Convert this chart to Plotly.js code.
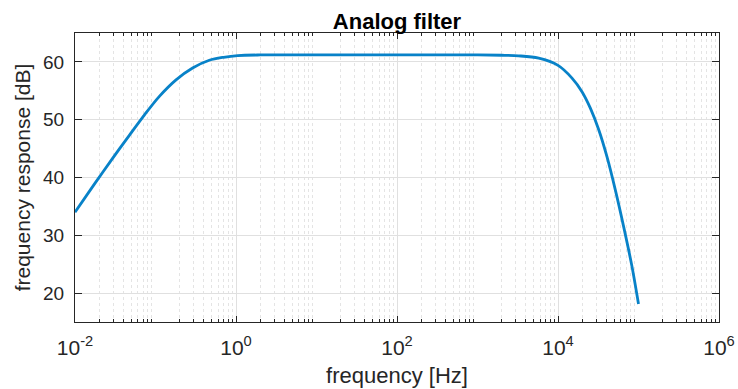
<!DOCTYPE html>
<html>
<head>
<meta charset="utf-8">
<script src="https://cdn.plot.ly/plotly-3.0.1.min.js"></script>
<style>
  html, body { margin: 0; padding: 0; background: #ffffff; }
  #chart { width: 738px; height: 389px; }
</style>
</head>
<body>
<div id="chart"></div>
<script>
// ---- data ----
const freqHz = [0.01, 0.0174, 0.0293, 0.0473, 0.0726, 0.111, 0.18, 0.289, 0.466, 0.7, 1.05, 2, 5, 20, 100, 1000, 2000, 3236, 5754, 10000, 14930, 19860, 25230, 31990, 40640, 51520, 65460, 82990, 100000];
const responseDb = [34.0, 38.85, 43.3, 47.3, 50.8, 54.0, 56.9, 58.95, 60.28, 60.8, 61.1, 61.2, 61.2, 61.2, 61.2, 61.2, 61.15, 61.05, 60.65, 59.4, 57.2, 54.85, 52.0, 48.3, 43.55, 37.85, 31.45, 24.6, 18.1];

const xTickVals = [0.01, 1, 100, 10000, 1000000];
const xTickText = ['10<sup>-2</sup>', '10<sup>0</sup>', '10<sup>2</sup>', '10<sup>4</sup>', '10<sup>6</sup>'];
const yTickVals = [20, 30, 40, 50, 60];

const chartTitle = 'Analog filter';
const xLabel = 'frequency [Hz]';
const yLabel = 'frequency response [dB]';

// minor (log) tick positions 2..9 in each decade
const minorVals = [];
for (let e = -2; e < 6; e++) {
  for (let m = 2; m <= 9; m++) minorVals.push(m * Math.pow(10, e));
}

const FONT = '"Liberation Sans", Arial, Helvetica, sans-serif';
const AXC = '#262626';

const trace = {
  x: freqHz,
  y: responseDb,
  type: 'scatter',
  mode: 'lines',
  line: { color: '#0882c8', width: 2.8, shape: 'spline', smoothing: 0.9 },
  hoverinfo: 'x+y'
};

const layout = {
  width: 738,
  height: 389,
  margin: { l: 75, r: 19, t: 33, b: 67, pad: 0 },
  paper_bgcolor: '#ffffff',
  plot_bgcolor: '#ffffff',
  showlegend: false,
  font: { family: FONT, color: AXC },
  title: {
    text: '<b>' + chartTitle + '</b>',
    font: { family: FONT, size: 22, color: '#000000' },
    x: 0.5, xref: 'paper', xanchor: 'center',
    y: 1, yref: 'paper', yanchor: 'bottom',
    pad: { b: 4 }
  },
  xaxis: {
    type: 'log',
    range: [-2, 6],
    tickmode: 'array',
    tickvals: xTickVals,
    ticktext: xTickText,
    ticks: 'inside',
    ticklen: 6,
    tickwidth: 1,
    tickcolor: AXC,
    tickfont: { family: FONT, size: 21, color: AXC },
    ticklabelstandoff: 7,
    showline: true,
    linecolor: AXC,
    linewidth: 1,
    mirror: 'ticks',
    showgrid: true,
    gridcolor: '#e0e0e0',
    gridwidth: 1,
    zeroline: false,
    minor: {
      tickmode: 'array',
      tickvals: minorVals,
      ticks: 'inside',
      ticklen: 3,
      tickcolor: AXC,
      showgrid: true,
      gridcolor: '#e4e4e4',
      griddash: 'dot',
      gridwidth: 1
    },
    title: {
      text: xLabel,
      font: { family: FONT, size: 22, color: AXC },
      standoff: 9
    },
    automargin: false
  },
  yaxis: {
    range: [15, 65],
    tickmode: 'array',
    tickvals: yTickVals,
    ticks: 'inside',
    ticklen: 7,
    tickwidth: 1,
    tickcolor: AXC,
    tickfont: { family: FONT, size: 19, color: AXC },
    ticklabelstandoff: 6,
    showline: true,
    linecolor: AXC,
    linewidth: 1,
    mirror: 'ticks',
    showgrid: true,
    gridcolor: '#e0e0e0',
    gridwidth: 1,
    zeroline: false,
    title: {
      text: yLabel,
      font: { family: FONT, size: 21, color: AXC },
      standoff: 6
    },
    automargin: false
  }
};

Plotly.newPlot('chart', [trace], layout, { displayModeBar: false, staticPlot: true });
</script>
</body>
</html>
